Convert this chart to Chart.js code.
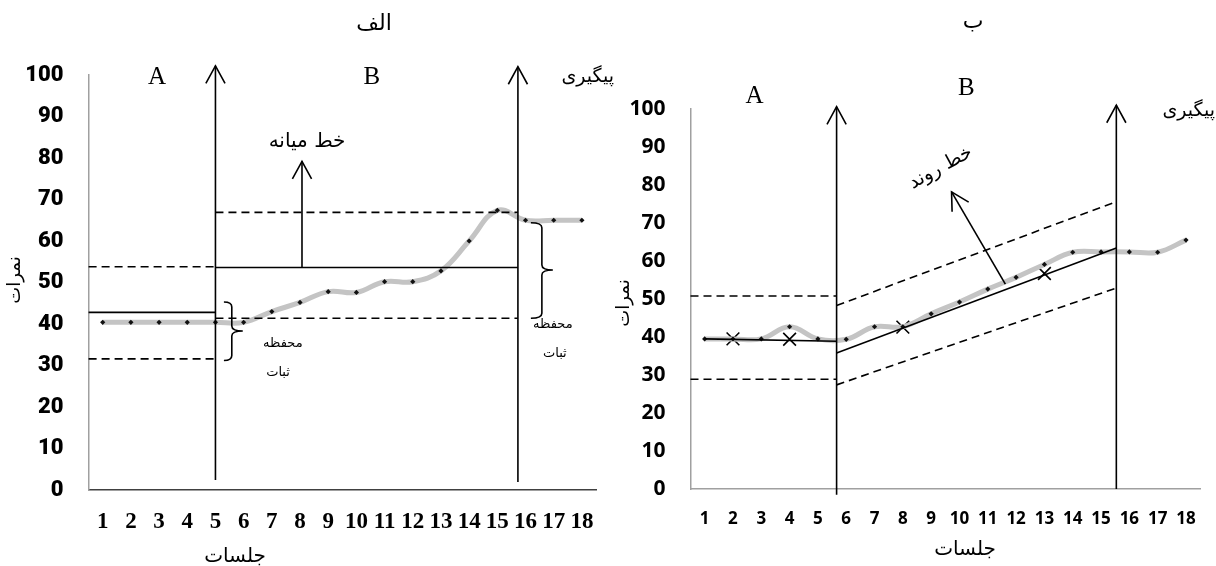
<!DOCTYPE html>
<html>
<head>
<meta charset="utf-8">
<script src="https://cdn.jsdelivr.net/npm/chart.js@4.4.1/dist/chart.umd.min.js"></script>
<style>
  body { margin: 0; background: #fff; width: 1216px; height: 566px; overflow: hidden; position: relative; }
  #chartA { position: absolute; left: 0; top: 0; }
  #chartB { position: absolute; left: 615px; top: 0; }
</style>
</head>
<body>
<canvas id="chartA" width="615" height="566"></canvas>
<canvas id="chartB" width="601" height="566"></canvas>
<script>
const sessions = ['1', '2', '3', '4', '5', '6', '7', '8', '9', '10', '11', '12', '13', '14', '15', '16', '17', '18'];
const yTicks = [0, 10, 20, 30, 40, 50, 60, 70, 80, 90, 100];

// panel الف
const scoresA = [40.4, 40.4, 40.4, 40.4, 40.4, 40.4, 43.0, 45.2, 47.8, 47.6, 50.2, 50.2, 52.8, 60.0, 67.4, 65.0, 65.0, 65.0];
const phaseA = [4, 14.73];        // phase change, as session index
const meanA = [42.8, 53.6];       // baseline / treatment median line
const bandLowA = [31.6, 41.4];
const bandHighA = [53.8, 66.9];

// panel ب
const scoresB = [39.5, 39.5, 39.5, 42.7, 39.5, 39.4, 42.7, 42.7, 46.1, 49.2, 52.6, 55.7, 59.1, 62.3, 62.4, 62.4, 62.3, 65.5];
const crossB = [null, 39.5, null, 39.4, null, null, null, 42.6, null, null, null, null, 56.7, null, null, null, null, null];
const phaseB = [4.66, 14.54];
const trendB = [[39.5, 38.9], [35.8, 63.4]];   // [start, end] per phase
const bandHighB = [[50.8, 50.8], [48.3, 75.6]];
const bandLowB = [[28.9, 28.9], [27.4, 52.9]];

const FA = '"DejaVu Sans", sans-serif';

function seg(ctx, x0, y0, x1, y1) {
  ctx.beginPath();
  ctx.moveTo(x0, y0);
  ctx.lineTo(x1, y1);
  ctx.stroke();
}

function arrow(ctx, x0, y0, x1, y1) {
  const a = Math.atan2(y1 - y0, x1 - x0);
  const len = 20, spread = 0.5;
  seg(ctx, x0, y0, x1, y1);
  ctx.beginPath();
  ctx.moveTo(x1 - len * Math.cos(a - spread), y1 - len * Math.sin(a - spread));
  ctx.lineTo(x1, y1);
  ctx.lineTo(x1 - len * Math.cos(a + spread), y1 - len * Math.sin(a + spread));
  ctx.stroke();
}

// "}" shaped brace, open ends at x0, spine at xm, tip at x1
function brace(ctx, x0, xm, x1, yt, yb, ytip) {
  const r = 5;
  ctx.beginPath();
  ctx.moveTo(x0, yt);
  ctx.quadraticCurveTo(xm, yt, xm, yt + r);
  ctx.lineTo(xm, ytip - r);
  ctx.quadraticCurveTo(xm, ytip, x1, ytip);
  ctx.quadraticCurveTo(xm, ytip, xm, ytip + r);
  ctx.lineTo(xm, yb - r);
  ctx.quadraticCurveTo(xm, yb, x0, yb);
  ctx.stroke();
}

function txt(ctx, s, x, y, font, align, rot) {
  ctx.save();
  ctx.translate(x, y);
  if (rot) ctx.rotate(rot);
  ctx.font = font;
  ctx.fillStyle = '#000';
  ctx.textAlign = align || 'center';
  ctx.textBaseline = 'middle';
  ctx.fillText(s, 0, 0);
  ctx.restore();
}

const overlayA = {
  id: 'overlayA',
  afterDatasetsDraw(chart) {
    const { ctx, chartArea: a, scales: { x, y } } = chart;
    const X = i => x.getPixelForValue(i), Y = v => y.getPixelForValue(v);
    const p1 = X(phaseA[0]), p2 = X(phaseA[1]);
    ctx.save();
    ctx.strokeStyle = '#000';
    ctx.lineWidth = 1.6;
    seg(ctx, a.left, Y(meanA[0]), p1, Y(meanA[0]));
    seg(ctx, p1, Y(meanA[1]), p2, Y(meanA[1]));
    ctx.setLineDash([8, 5]);
    seg(ctx, a.left, Y(bandLowA[0]), p1, Y(bandLowA[0]));
    seg(ctx, a.left, Y(bandHighA[0]), p1, Y(bandHighA[0]));
    seg(ctx, p1, Y(bandLowA[1]), p2, Y(bandLowA[1]));
    seg(ctx, p1, Y(bandHighA[1]), p2, Y(bandHighA[1]));
    ctx.setLineDash([]);
    arrow(ctx, p1, Y(2.4), p1, Y(102.2));
    arrow(ctx, p2, Y(1.9), p2, Y(102));
    arrow(ctx, X(7.07), Y(meanA[1]), X(7.07), Y(79.2));
    brace(ctx, X(4.3), X(4.58), X(4.97), Y(45.3), Y(31.2), Y(38.3));
    brace(ctx, X(15.19), X(15.58), X(15.97), Y(64.4), Y(41.4), Y(53));

    txt(ctx, 'الف', 374, 24, '22px ' + FA);
    txt(ctx, 'A', X(1.93), Y(99.5), '25px "Liberation Serif"');
    txt(ctx, 'B', X(9.55), Y(99.5), '25px "Liberation Serif"');
    txt(ctx, 'پیگیری', 614, Y(99.5), '19px ' + FA, 'right');
    txt(ctx, 'خط میانه', X(7.25), Y(83.9), '20px ' + FA);
    txt(ctx, 'محفظه', X(6.39), Y(35.2), '13px ' + FA);
    txt(ctx, 'ثبات', X(6.22), Y(28.2), '13px ' + FA);
    txt(ctx, 'محفظه', X(15.97), Y(39.8), '13px ' + FA);
    txt(ctx, 'ثبات', X(16.04), Y(32.8), '13px ' + FA);
    txt(ctx, 'نمرات', 15, 280, '18px ' + FA, 'center', -Math.PI / 2);
    txt(ctx, 'جلسات', 235, 557, '20px ' + FA);
    ctx.restore();
  }
};

const overlayB = {
  id: 'overlayB',
  afterDatasetsDraw(chart) {
    const { ctx, chartArea: a, scales: { x, y } } = chart;
    const X = i => x.getPixelForValue(i), Y = v => y.getPixelForValue(v);
    const p1 = X(phaseB[0]), p2 = X(phaseB[1]);
    ctx.save();
    ctx.strokeStyle = '#000';
    ctx.lineWidth = 1.6;
    seg(ctx, X(0), Y(trendB[0][0]), p1, Y(trendB[0][1]));
    seg(ctx, p1, Y(trendB[1][0]), p2, Y(trendB[1][1]));
    ctx.setLineDash([8, 5]);
    seg(ctx, a.left, Y(bandHighB[0][0]), p1, Y(bandHighB[0][1]));
    seg(ctx, a.left, Y(bandLowB[0][0]), p1, Y(bandLowB[0][1]));
    seg(ctx, p1, Y(bandHighB[1][0]), p2, Y(bandHighB[1][1]));
    seg(ctx, p1, Y(bandLowB[1][0]), p2, Y(bandLowB[1][1]));
    ctx.setLineDash([]);
    arrow(ctx, p1, Y(-1.5), p1, Y(100.6));
    arrow(ctx, p2, Y(0), p2, Y(101));
    arrow(ctx, X(10.62), Y(53.9), X(8.72), Y(78.2));

    txt(ctx, 'ب', 358, 22, '22px ' + FA);
    txt(ctx, 'A', X(1.76), Y(103.2), '25px "Liberation Serif"');
    txt(ctx, 'B', X(9.24), Y(105.3), '25px "Liberation Serif"');
    txt(ctx, 'پیگیری', 600, Y(99.5), '19px ' + FA, 'right');
    txt(ctx, 'خط روند', X(8.34), Y(84.5), '19px ' + FA, 'center', -0.5);
    txt(ctx, 'نمرات', 9, 303, '18px ' + FA, 'center', -Math.PI / 2);
    txt(ctx, 'جلسات', 350, 550, '20px ' + FA);
    ctx.restore();
  }
};

function makeOptions(o) {
  return {
    responsive: false,
    animation: false,
    layout: { padding: { left: 0, right: o.padRight, top: o.top, bottom: 0 } },
    plugins: { legend: { display: false }, tooltip: { enabled: false } },
    scales: {
      x: {
        type: 'category',
        offset: true,
        grid: { display: false, drawTicks: false },
        border: { display: true, color: o.xBorder, width: 1.5 },
        ticks: { color: '#000', font: o.xFont, padding: o.xPad, maxRotation: 0, autoSkip: false },
        afterFit: s => { s.height = o.xHeight; }
      },
      y: {
        min: 0, max: 100,
        grid: { display: false, drawTicks: false },
        border: { display: true, color: '#a0a0a0', width: 1.5 },
        afterBuildTicks: s => { s.ticks = yTicks.map(v => ({ value: v })); },
        ticks: { color: '#000', font: o.yFont, padding: o.yPad },
        afterFit: s => { s.width = o.yWidth; }
      }
    }
  };
}

const lineStyle = {
  borderColor: '#c4c4c4',
  borderWidth: 5,
  tension: 0.4,
  pointStyle: 'rectRot',
  pointRadius: 2.6,
  pointBorderWidth: 0,
  pointBackgroundColor: '#111'
};

new Chart(document.getElementById('chartA'), {
  type: 'line',
  data: {
    labels: sessions,
    datasets: [Object.assign({ data: scoresA }, lineStyle)]
  },
  options: makeOptions({
    padRight: 19, top: 75, xHeight: 76, yWidth: 88.6,
    xBorder: '#404040', xPad: 18, yPad: 25,
    xFont: { family: '"Liberation Serif"', size: 23, weight: 'bold' },
    yFont: { family: 'Roboto', size: 22, weight: '900' }
  }),
  plugins: [overlayA]
});

new Chart(document.getElementById('chartB'), {
  type: 'line',
  data: {
    labels: sessions,
    datasets: [
      Object.assign({ data: scoresB }, lineStyle),
      {
        data: crossB,
        showLine: false,
        pointStyle: 'crossRot',
        pointRadius: 9,
        pointBorderWidth: 1.6,
        pointBorderColor: '#000'
      }
    ]
  },
  options: makeOptions({
    padRight: 3.5, top: 109, xHeight: 77, yWidth: 75.5,
    xBorder: '#a0a0a0', xPad: 20, yPad: 25,
    xFont: { family: '"Open Sans"', size: 17, weight: 'bold' },
    yFont: { family: '"Open Sans"', size: 21, weight: 'bold' }
  }),
  plugins: [overlayB]
});
</script>
</body>
</html>
